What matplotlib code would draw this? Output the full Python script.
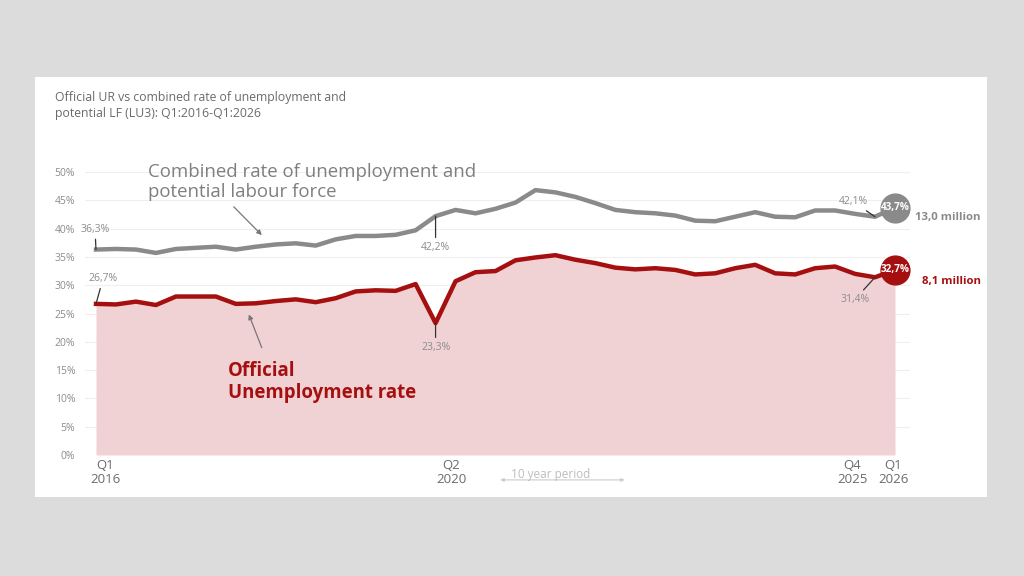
import matplotlib.pyplot as plt
from matplotlib.patches import Rectangle

plt.rcParams["font.family"] = ["Open Sans", "DejaVu Sans"]

# quarterly values, Q1 2016 .. Q1 2026 (41 quarters)
combined_rate = [
    36.3, 36.4, 36.3, 35.7, 36.4, 36.6, 36.8, 36.3, 36.8, 37.2,
    37.4, 37.0, 38.1, 38.7, 38.7, 38.9, 39.7, 42.2, 43.3, 42.7,
    43.5, 44.6, 46.8, 46.4, 45.6, 44.5, 43.3, 42.9, 42.7, 42.3,
    41.4, 41.3, 42.1, 42.9, 42.1, 42.0, 43.2, 43.2, 42.6, 42.1,
    43.7,
]
official_rate = [
    26.7, 26.6, 27.1, 26.5, 28.0, 28.0, 28.0, 26.7, 26.8, 27.2,
    27.5, 27.0, 27.7, 28.9, 29.1, 29.0, 30.2, 23.3, 30.7, 32.3,
    32.5, 34.4, 34.9, 35.3, 34.5, 33.9, 33.1, 32.8, 33.0, 32.7,
    31.9, 32.1, 33.0, 33.6, 32.1, 31.9, 33.0, 33.3, 32.0, 31.4,
    32.7,
]
tick_index = [0, 17, 39, 40]
tick_labels = ["Q1\n2016", "Q2\n2020", "Q4\n2025", "Q1\n2026"]
y_ticks = [0, 5, 10, 15, 20, 25, 30, 35, 40, 45, 50]
last_combined_people = "13,0 million"
last_official_people = "8,1 million"

GREY = "#8a8a8a"
RED = "#a50f0f"
PINK = "#f0d2d4"
TXT = "#6b6b6b"


def pct(v):
    return f"{v:.1f}".replace(".", ",") + "%"


fig = plt.figure(figsize=(10.24, 5.76), dpi=100)
fig.patch.set_facecolor("#dcdcdc")
fig.patches.append(Rectangle((35 / 1024, 1 - 497 / 576), 952 / 1024, 420 / 576,
                             transform=fig.transFigure, facecolor="white",
                             edgecolor="none", zorder=-5))

ax = fig.add_axes([85 / 1024, 1 - 455 / 576, 825 / 1024, 283 / 576])
ax.set_facecolor("none")
ax.set_axisbelow(True)
x = list(range(len(official_rate)))

ax.fill_between(x, official_rate, 0, color=PINK, lw=0, zorder=1)
ax.plot(x, combined_rate, color=GREY, lw=3.2, solid_joinstyle="round", zorder=3)
ax.plot(x, official_rate, color=RED, lw=3.2, solid_joinstyle="round", zorder=3)

ax.set_xlim(-0.55, 40.75)
ax.set_ylim(0, 50)
ax.set_yticks(y_ticks, [f"{t}%" for t in y_ticks])
ax.tick_params(axis="y", length=0, pad=7, labelsize=7.5, labelcolor="#8c8c8c")
ax.set_xticks([])
ax.grid(axis="y", color="#efefef", lw=0.8)
for s in ax.spines.values():
    s.set_visible(False)

# quarter labels under the axis
for i, lab, dx in zip(tick_index, tick_labels, [9, 16, -23, -2]):
    ax.annotate(lab, (i, 0), xytext=(dx, -4), textcoords="offset pixels",
                ha="center", va="top", fontsize=9.5, color=TXT, linespacing=1.1,
                annotation_clip=False)

# data labels with leader lines
lead = dict(arrowstyle="-", color="#333333", lw=0.9, shrinkA=1, shrinkB=0)
points = [
    (0, combined_rate, (-1, 20)),
    (0, official_rate, (7, 25)),
    (17, combined_rate, (0, -31)),
    (17, official_rate, (0, -24)),
    (39, combined_rate, (-22, 15)),
    (39, official_rate, (-20, -22)),
]
for i, series, off in points:
    ax.annotate(pct(series[i]), (i, series[i]), xytext=off, textcoords="offset pixels",
                ha="center", va="center", fontsize=7.5, color="#8c8c8c",
                arrowprops=lead, zorder=5)

# end markers
last = len(x) - 1
for series, col, people, off in [(combined_rate, GREY, last_combined_people, (20, -10)),
                                 (official_rate, RED, last_official_people, (27, -12))]:
    ax.scatter([last], [series[last]], s=430, color=col, zorder=6, clip_on=False)
    ax.text(last, series[last], pct(series[last]), ha="center", va="center",
            fontsize=7.2, fontweight="bold", color="white", zorder=7)
    ax.annotate(people, (last, series[last]), xytext=off, textcoords="offset pixels",
                ha="left", va="center", fontsize=8.2, fontweight="bold", color=col,
                annotation_clip=False)

# series captions
ax.text(2.6, 48.2, "Combined rate of unemployment and\npotential labour force",
        ha="left", va="center", fontsize=13.4, color="#7f7f7f", linespacing=1.15)
ax.annotate("", xy=(8.4, 38.5), xytext=(6.8, 44.2),
            arrowprops=dict(arrowstyle="-|>", color="#777777", lw=0.9,
                            mutation_scale=7))
ax.text(6.6, 12.9, "Official\nUnemployment rate", ha="left", va="center",
        fontsize=13.4, fontweight="bold", color=RED, linespacing=1.15)
ax.annotate("", xy=(7.6, 25.3), xytext=(8.35, 18.5),
            arrowprops=dict(arrowstyle="-|>", color="#777777", lw=0.9,
                            mutation_scale=7))

# period marker
ax.annotate("", xy=(26.6, -4.4), xytext=(20.1, -4.4), annotation_clip=False,
            arrowprops=dict(arrowstyle="<|-|>", color="#cccccc", lw=0.8,
                            mutation_scale=5))
ax.text(22.75, -3.4, "10 year period", ha="center", va="center",
        fontsize=8.5, color="#bdbdbd", clip_on=False)

fig.text(55 / 1024, 1 - 105 / 576,
         "Official UR vs combined rate of unemployment and\npotential LF (LU3): Q1:2016-Q1:2026",
         ha="left", va="center", fontsize=8.8, color=TXT, linespacing=1.3)

fig.savefig("out.png", dpi=100, facecolor=fig.get_facecolor())
